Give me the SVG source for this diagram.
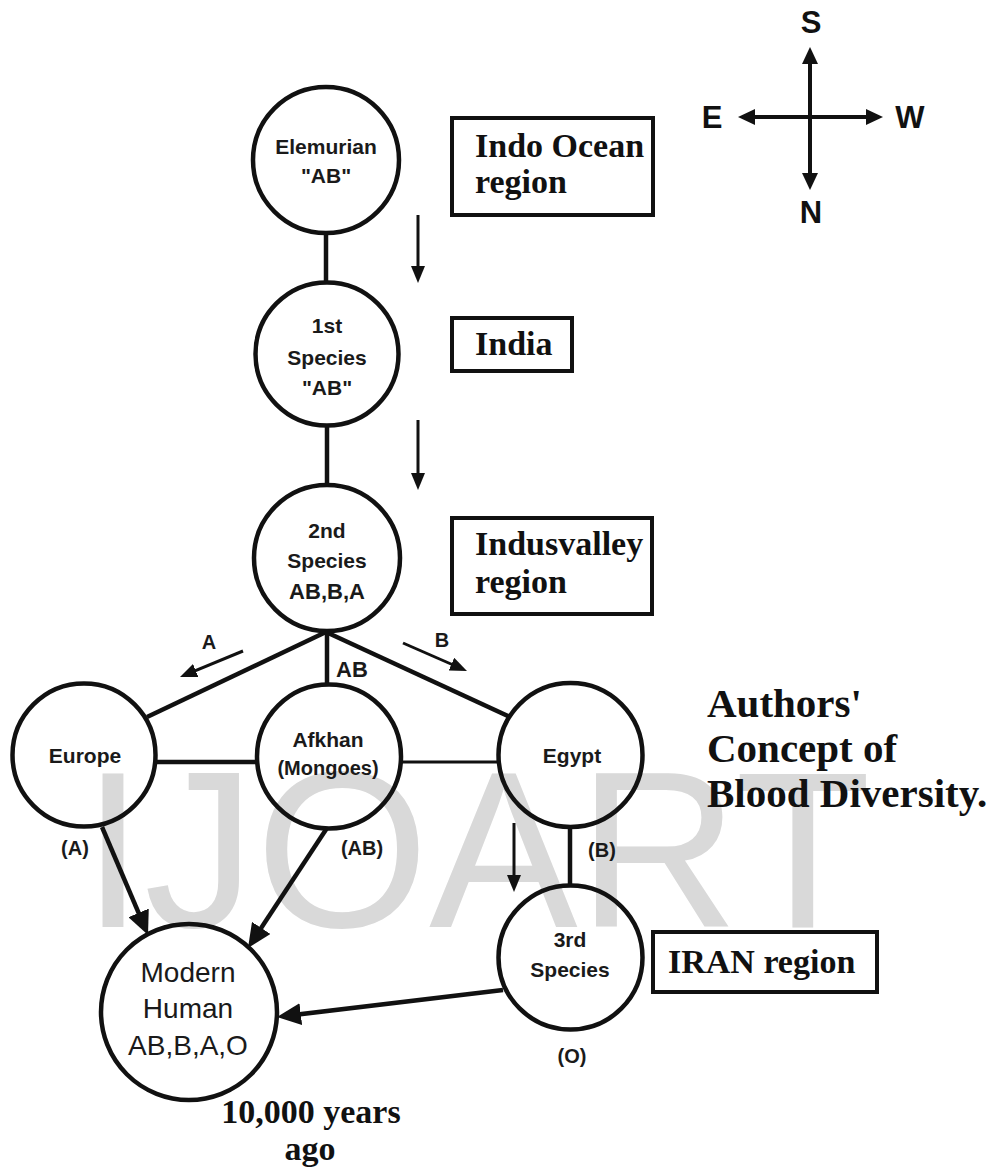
<svg xmlns="http://www.w3.org/2000/svg" width="992" height="1171" viewBox="0 0 992 1171">
<style>
.node circle{fill:none;stroke:#111;stroke-width:4.5}
.nt{font-family:"Liberation Sans",Arial,sans-serif;font-weight:bold;font-size:21px;fill:#1a1a1a;text-anchor:middle}
.mt{font-family:"Liberation Sans",Arial,sans-serif;font-size:28px;fill:#1a1a1a;text-anchor:middle}
.lbl{font-family:"Liberation Sans",Arial,sans-serif;font-weight:bold;font-size:20px;fill:#1a1a1a;text-anchor:middle}
.box rect{fill:none;stroke:#111;stroke-width:4}
.bt{font-family:"Liberation Serif","Times New Roman",serif;font-weight:bold;font-size:34px;fill:#111}
.title{font-family:"Liberation Serif","Times New Roman",serif;font-weight:bold;font-size:41px;fill:#111}
.cmp{font-family:"Liberation Sans",Arial,sans-serif;font-weight:bold;font-size:31px;fill:#111;text-anchor:middle}
.thick{stroke:#111;stroke-width:4.5;fill:none}
.thin{stroke:#111;stroke-width:3;fill:none}
.wm{font-family:"Liberation Sans",Arial,sans-serif;font-size:223px;fill:#d9d9d9}
</style>
<defs>
<marker id="big" markerUnits="userSpaceOnUse" viewBox="0 0 24 22" markerWidth="24" markerHeight="22" refX="16" refY="11" orient="auto"><path d="M0,0 L24,11 L0,22 z" fill="#111"/></marker>
<marker id="small" markerUnits="userSpaceOnUse" viewBox="0 0 17 14" markerWidth="17" markerHeight="14" refX="12" refY="7" orient="auto"><path d="M0,0 L17,7 L0,14 z" fill="#111"/></marker>
<marker id="cmpa" markerUnits="userSpaceOnUse" viewBox="0 0 17 16" markerWidth="17" markerHeight="16" refX="11" refY="8" orient="auto-start-reverse"><path d="M0,0 L17,8 L0,16 z" fill="#111"/></marker>
</defs>
<rect width="992" height="1171" fill="#fff"/>
<text class="wm" x="82" y="927">IJOART</text>

<g id="compass">
<line class="thick" x1="810" y1="53" x2="810" y2="184" marker-start="url(#cmpa)" marker-end="url(#cmpa)" style="stroke-width:4"/>
<line class="thick" x1="744" y1="117" x2="877" y2="117" marker-start="url(#cmpa)" marker-end="url(#cmpa)" style="stroke-width:4"/>
<text class="cmp" x="811" y="33">S</text>
<text class="cmp" x="712" y="128">E</text>
<text class="cmp" x="910" y="128">W</text>
<text class="cmp" x="811" y="223">N</text>
</g>

<g id="connectors">
<line class="thick" x1="326" y1="233" x2="326" y2="283"/>
<line class="thick" x1="327" y1="425" x2="327" y2="485"/>
<line class="thick" x1="326" y1="632" x2="147" y2="717"/>
<line class="thick" x1="326" y1="632" x2="510" y2="717"/>
<line class="thick" x1="327" y1="632" x2="327" y2="685"/>
<line class="thick" x1="155" y1="762" x2="257" y2="762"/>
<line class="thin" x1="401" y1="762" x2="498" y2="762"/>
<line class="thick" x1="570" y1="827" x2="570" y2="886"/>
<line class="thick" x1="102" y1="827" x2="144.9" y2="927.6" marker-end="url(#big)"/>
<line class="thick" x1="327" y1="828" x2="252.4" y2="941.3" marker-end="url(#big)"/>
<line class="thick" x1="503" y1="990" x2="284.9" y2="1016.1" marker-end="url(#big)"/>
<line class="thin" x1="418" y1="215" x2="418" y2="278" marker-end="url(#small)"/>
<line class="thin" x1="418" y1="420" x2="418" y2="485" marker-end="url(#small)"/>
<line class="thin" x1="514" y1="823" x2="514" y2="887" marker-end="url(#small)"/>
<line class="thin" x1="243" y1="651" x2="184.6" y2="675.1" marker-end="url(#small)"/>
<line class="thin" x1="403" y1="643" x2="462.4" y2="669" marker-end="url(#small)"/>
<text class="lbl" x="209" y="649">A</text>
<text class="lbl" x="442" y="647">B</text>
<text class="lbl" x="352" y="677" style="font-size:22px">AB</text>
<text class="lbl" x="75" y="855">(A)</text>
<text class="lbl" x="362" y="855">(AB)</text>
<text class="lbl" x="602" y="857">(B)</text>
<text class="lbl" x="572" y="1063">(O)</text>
</g>

<g id="elemurian" class="node">
<circle cx="326" cy="160" r="73"/>
<text class="nt" x="326" y="154">Elemurian</text>
<text class="nt" x="326" y="183">"AB"</text>
</g>
<g id="species1" class="node">
<circle cx="327" cy="354" r="71.5"/>
<text class="nt" x="327" y="333">1st</text>
<text class="nt" x="327" y="365">Species</text>
<text class="nt" x="327" y="395">"AB"</text>
</g>
<g id="species2" class="node">
<circle cx="327" cy="558" r="73"/>
<text class="nt" x="327" y="538">2nd</text>
<text class="nt" x="327" y="568">Species</text>
<text class="nt" x="327" y="599" style="font-size:22px">AB,B,A</text>
</g>
<g id="europe" class="node">
<circle cx="84" cy="755" r="71.5"/>
<text class="nt" x="85" y="763">Europe</text>
</g>
<g id="afkhan" class="node">
<circle cx="329" cy="756.5" r="72"/>
<text class="nt" x="328" y="747">Afkhan</text>
<text class="nt" x="328" y="775" style="font-size:20px">(Mongoes)</text>
</g>
<g id="egypt" class="node">
<circle cx="570.5" cy="755" r="72"/>
<text class="nt" x="572" y="763">Egypt</text>
</g>
<g id="species3" class="node">
<circle cx="570.5" cy="957.5" r="72"/>
<text class="nt" x="570" y="947">3rd</text>
<text class="nt" x="570" y="977">Species</text>
</g>
<g id="modern" class="node">
<circle cx="189" cy="1012" r="88"/>
<text class="mt" x="188" y="982">Modern</text>
<text class="mt" x="188" y="1018">Human</text>
<text class="mt" x="188" y="1055">AB,B,A,O</text>
</g>

<g id="box-indo" class="box">
<rect x="452" y="118" width="201" height="97"/>
<text class="bt" x="475" y="157">Indo Ocean</text>
<text class="bt" x="475" y="193">region</text>
</g>
<g id="box-india" class="box">
<rect x="452" y="318" width="120" height="53"/>
<text class="bt" x="475" y="355">India</text>
</g>
<g id="box-indus" class="box">
<rect x="452" y="518" width="200" height="96"/>
<text class="bt" x="475" y="555">Indusvalley</text>
<text class="bt" x="475" y="593">region</text>
</g>
<g id="box-iran" class="box">
<rect x="653" y="932" width="224" height="60"/>
<text class="bt" x="668" y="973">IRAN region</text>
</g>

<g id="caption">
<text class="title" x="707" y="717">Authors'</text>
<text class="title" x="707" y="762">Concept of</text>
<text class="title" x="707" y="807">Blood Diversity.</text>
<text class="bt" x="311" y="1123" text-anchor="middle">10,000 years</text>
<text class="bt" x="310" y="1160" text-anchor="middle">ago</text>
</g>
</svg>
